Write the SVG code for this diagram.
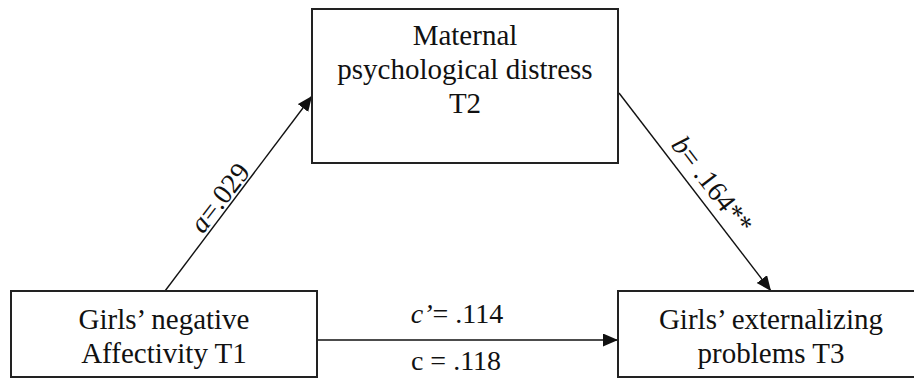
<svg xmlns="http://www.w3.org/2000/svg" width="914" height="378" viewBox="0 0 914 378">
<style>
.box{fill:#fff;stroke:#222;stroke-width:2}
.t{font-size:29px;fill:#111;text-anchor:middle}
.l{font-size:28px;fill:#111;text-anchor:middle}
.c{stroke:#111;stroke-width:1.4;fill:none;marker-end:url(#ah)}
</style>
<defs>
<marker id="ah" markerUnits="userSpaceOnUse" markerWidth="16" markerHeight="14" refX="15" refY="6.5" orient="auto">
<path d="M0,0 L15,6.5 L0,13 Z" fill="#111"/>
</marker>
</defs>
<rect width="914" height="378" fill="#fff"/>
<g font-family="'Liberation Serif', Tinos, 'Times New Roman', Times, 'Nimbus Roman', 'FreeSerif', 'DejaVu Serif', serif">
<g id="connectors">
<line class="c" x1="165" y1="291" x2="312" y2="96"/>
<line class="c" x1="619" y1="93" x2="771" y2="291"/>
<line class="c" x1="317" y1="340" x2="618" y2="340"/>
<text class="l" transform="translate(220,198) rotate(-52.4)" x="0" y="9"><tspan font-style="italic">a</tspan>=.029</text>
<text class="l" transform="translate(712,185) rotate(52.6)" x="0" y="9"><tspan font-style="italic">b</tspan>= .164**</text>
<text class="l" x="457" y="323"><tspan font-style="italic">c’</tspan>= .114</text>
<text class="l" x="456" y="370">c = .118</text>
</g>
<g id="node-mediator">
<rect class="box" x="312" y="9" width="306" height="154"/>
<text class="t" x="465" y="45">Maternal</text>
<text class="t" x="465" y="79">psychological distress</text>
<text class="t" x="465" y="113">T2</text>
</g>
<g id="node-predictor">
<rect class="box" x="11" y="291" width="306" height="86"/>
<text class="t" x="164" y="329">Girls’ negative</text>
<text class="t" x="164" y="363">Affectivity T1</text>
</g>
<g id="node-outcome">
<path class="box" d="M914,291 H618 V377 H914"/>
<text class="t" x="771" y="329">Girls’ externalizing</text>
<text class="t" x="771" y="363">problems T3</text>
</g>
</g>
</svg>
